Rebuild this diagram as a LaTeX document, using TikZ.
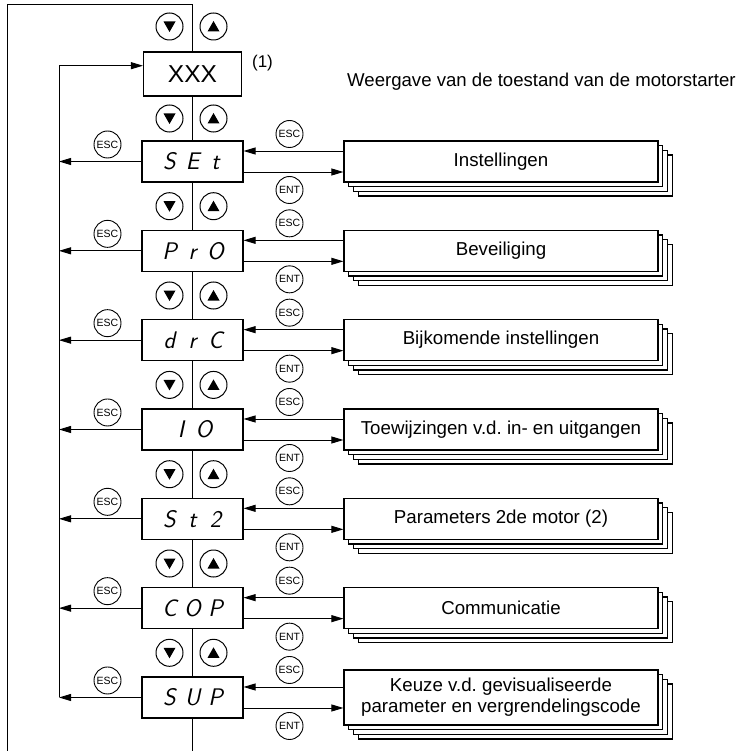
\documentclass[tikz,border=0pt]{standalone}
\usepackage{fontspec}
\setmainfont{Liberation Sans}
\usetikzlibrary{arrows.meta,shadows,calc}
\frenchspacing
\newcommand\sgthree[3]{{\sffamily\slshape\fontsize{24}{24}\selectfont\makebox[23pt]{#1}\makebox[23pt]{#2}\makebox[23pt]{#3}}}
\newcommand\sgtwo[2]{{\sffamily\slshape\fontsize{24}{24}\selectfont\makebox[23pt]{#1}\makebox[23pt]{#2}}}
\tikzset{
  ln/.style={line width=0.9pt},
  arr/.style={line width=0.9pt,-{Triangle[length=12pt,width=7pt]}},
  disp/.style={draw,fill=white,line width=1.1pt,minimum width=101pt,minimum height=41pt,inner sep=0pt},
  stackbox/.style={draw,fill=white,line width=1.2pt,minimum width=314pt,minimum height=41pt,inner sep=2pt,align=center,font=\fontsize{18.7}{21}\selectfont,
    copy shadow={shadow xshift=14.1pt,shadow yshift=-14.1pt,line width=1.2pt},
    copy shadow={shadow xshift=9.4pt,shadow yshift=-9.4pt,line width=1.2pt},
    copy shadow={shadow xshift=4.7pt,shadow yshift=-4.7pt,line width=1.2pt}},
  key/.style={circle,draw,fill=white,line width=0.9pt,minimum size=27pt,inner sep=0pt,font=\fontsize{10.5}{10.5}\selectfont},
  btn/.style={circle,draw,line width=1pt,minimum size=27pt,inner sep=0pt},
  btndown/.style={btn,path picture={\fill ([shift={(-6pt,5pt)}]path picture bounding box.center) -- ++(12pt,0pt) -- ++(-6pt,-10.5pt) -- cycle;}},
  btnup/.style={btn,path picture={\fill ([shift={(-6pt,-5pt)}]path picture bounding box.center) -- ++(12pt,0pt) -- ++(-6pt,10.5pt) -- cycle;}},
}
\begin{document}
\frenchspacing
\begin{tikzpicture}[x=1pt,y=-1pt]
\useasboundingbox (0,0) rectangle (754,751);
\coordinate (fbl) at (7,751);
\coordinate (ftop) at (192.5,4.5);
\coordinate (fbot) at (192.5,751);
\coordinate (lx) at (59,0);
\draw[ln] (fbl) |- (ftop) -- (fbot);
\node[disp,minimum width=98pt,minimum height=44pt,font=\fontsize{24.5}{24.5}\selectfont] (xxx) at (192.5,74) {XXX};
\node[font=\fontsize{17}{17}\selectfont,inner sep=0pt] (n1) at (262.5,63.5) {(1)};
\node[anchor=base west,font=\fontsize{18.6}{18.6}\selectfont,inner sep=0pt] (wg) at (347,87) {Weergave van de toestand van de motorstarter};
\foreach \i/\code/\txt/\h in {
  0/\sgthree SEt/Instellingen/41,
  1/\sgthree PrO/Beveiliging/41,
  2/\sgthree drC/Bijkomende instellingen/41,
  3/\sgtwo IO/Toewijzingen v.d. in- en uitgangen/41,
  4/\sgthree St2/Parameters 2de motor (2)/41,
  5/\sgthree COP/Communicatie/41,
  6/\sgthree SUP/{Keuze v.d. gevisualiseerde\\parameter en vergrendelingscode}/55}{
  \pgfmathsetmacro\t{141+89.33*\i}
  \node[disp] (d\i) at (192.5,\t+20.5) {\code};
  \node[stackbox,minimum height=\h pt] (s\i) at (501,\t+20.5) {\txt};
  \draw[arr] ([yshift=10.5pt]s\i.west) -- ([yshift=10.5pt]d\i.east);
  \draw[arr] ([yshift=-10.5pt]d\i.east) -- ([yshift=-10.5pt]s\i.west);
  \node[key] (er\i) at (289.5,\t-7) {ESC};
  \node[key] (nr\i) at (289.5,\t+49) {ENT};
  \node[key] (el\i) at (107.5,\t+3.5) {ESC};
  \draw[arr] (d\i.west) -- (d\i.west -| lx);
}
\draw[arr] (d6.west -| lx) |- ([yshift=8.3pt]xxx.west);
\foreach \k/\y in {a/26.5,b/118.5,c/206.2,d/295.5,e/384.9,f/474.2,g/563.5,h/652.8}{
  \node[btndown] (bd\k) at (169.5,\y) {};
  \node[btnup] (bu\k) at (213.5,\y) {};
}
\end{tikzpicture}
\end{document}
